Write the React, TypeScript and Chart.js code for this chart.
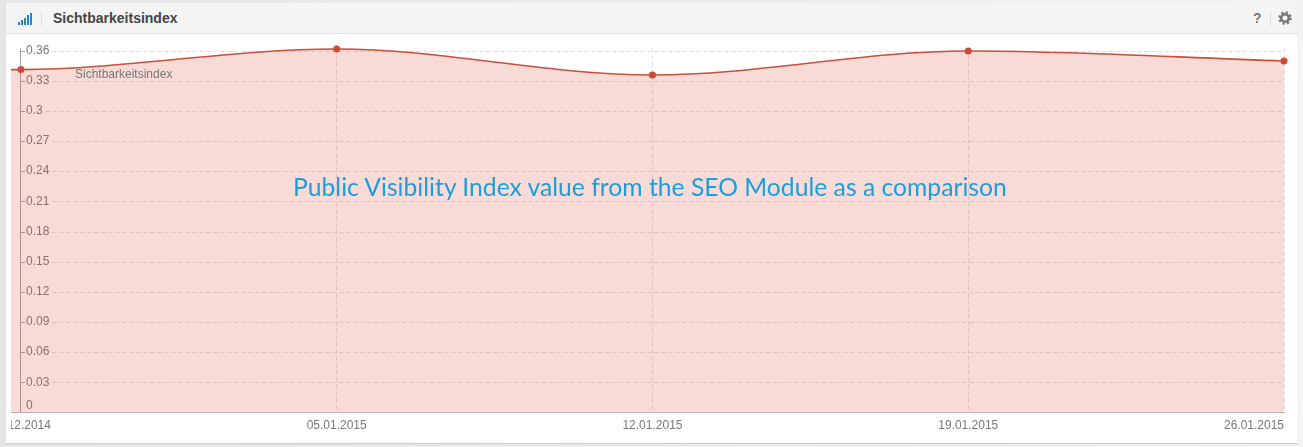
import { useEffect, useRef } from 'react';
import { Chart, registerables } from 'chart.js';

Chart.register(...registerables);

// days counted from 29.12.2014; the first entry sits off the left edge of the plot
const DAYS = [-7, 0, 7, 14, 21, 28];
const VALUES = [0.3405, 0.341, 0.3615, 0.3356, 0.3595, 0.3496];
const DATE_LABELS = ['29.12.2014', '05.01.2015', '12.01.2015', '19.01.2015', '26.01.2015'];
const TICK_DAYS = [0, 7, 14, 21, 28];
const Y_TICKS = [0, 0.03, 0.06, 0.09, 0.12, 0.15, 0.18, 0.21, 0.24, 0.27, 0.3, 0.33, 0.36];

const FONT = '"Liberation Sans", Arial, sans-serif';
const GRID = 'rgba(110, 90, 90, 0.22)';
const AXIS = 'rgba(100, 80, 80, 0.55)';

// y grid starts after each label, the way the original does it
const yGridPlugin = {
  id: 'yGrid',
  beforeDatasetsDraw(chart: any) {
    const { ctx, scales, chartArea } = chart;
    const axisX = scales.x.getPixelForValue(0);
    ctx.save();
    ctx.font = '12px ' + FONT;
    ctx.lineWidth = 1;
    Y_TICKS.forEach((v) => {
      if (v === 0) return;
      const y = Math.round(scales.y.getPixelForValue(v)) + 0.5;
      const labelEnd = 26 + ctx.measureText(String(v)).width;
      ctx.setLineDash([]);
      ctx.strokeStyle = AXIS;
      ctx.beginPath();
      ctx.moveTo(axisX, y);
      ctx.lineTo(axisX + 4, y);
      ctx.stroke();
      ctx.setLineDash([4, 3]);
      ctx.strokeStyle = GRID;
      ctx.beginPath();
      ctx.moveTo(labelEnd + 3, y);
      ctx.lineTo(chartArea.right, y);
      ctx.stroke();
    });
    ctx.restore();
  },
  // the first date is cut off by the plot edge
  afterDraw(chart: any) {
    chart.ctx.clearRect(0, chart.chartArea.bottom + 2, chart.chartArea.left, 30);
  },
};

export default function App() {
  const canvasRef = useRef<HTMLCanvasElement>(null);

  useEffect(() => {
    if (!canvasRef.current) return;

    const chart = new Chart(canvasRef.current, {
      type: 'line',
      data: {
        datasets: [{
          label: 'Sichtbarkeitsindex',
          data: DAYS.map((d, i) => ({ x: d, y: VALUES[i] })),
          borderColor: '#c8503c',
          borderWidth: 1.6,
          backgroundColor: 'rgba(222, 90, 70, 0.22)',
          fill: 'origin',
          cubicInterpolationMode: 'monotone',
          pointRadius: 3.5,
          pointBackgroundColor: '#cc4a38',
          pointBorderWidth: 0,
          clip: { left: 0, top: 10, right: 10, bottom: 0 },
        }],
      },
      options: {
        responsive: false,
        animation: false,
        layout: { padding: { left: 11, right: 19, top: 48.5, bottom: 0 } },
        plugins: { legend: { display: false }, tooltip: { enabled: false } },
        scales: {
          x: {
            type: 'linear',
            min: -0.22,
            max: 28,
            afterBuildTicks: (scale: any) => {
              scale.ticks = TICK_DAYS.map((value) => ({ value }));
            },
            afterFit: (scale: any) => {
              scale.height = 34.5;
              scale.paddingLeft = 0;
              scale.paddingRight = 0;
            },
            ticks: {
              autoSkip: false,
              maxRotation: 0,
              padding: 6,
              color: '#777',
              font: { family: FONT, size: 12 },
              // trailing spaces push the last date left so it ends at the plot edge
              callback: (value: any) => {
                const i = TICK_DAYS.indexOf(Number(value));
                return i === TICK_DAYS.length - 1 ? DATE_LABELS[i] + ' '.repeat(18) : DATE_LABELS[i];
              },
            },
            grid: {
              drawTicks: false,
              color: (c: any) => (c.tick && c.tick.value === 0 ? AXIS : GRID),
            },
            border: {
              color: 'rgba(130, 80, 80, 0.45)',
              dash: (c: any) => (c.tick && c.tick.value === 0 ? [] : [4, 3]),
            },
          },
          y: {
            min: 0,
            max: 0.362,
            afterFit: (scale: any) => {
              scale.width = 0;
            },
            afterBuildTicks: (scale: any) => {
              scale.ticks = Y_TICKS.map((value) => ({ value }));
            },
            ticks: {
              autoSkip: false,
              mirror: true,
              padding: 15,
              color: '#777',
              font: { family: FONT, size: 12 },
              // extra empty line lifts the 0 above the axis
              callback: (value: any) => (value === 0 ? ['0', ''] : String(value)),
            },
            grid: { display: false },
            border: { display: false },
          },
        },
      },
      plugins: [yGridPlugin],
    } as any);

    return () => chart.destroy();
  }, []);

  return (
    <div style={{ position: 'absolute', left: 0, top: 0, width: 1303, height: 447, overflow: 'hidden', background: 'linear-gradient(to right, #e6e6e6, #f3f3f3)', fontFamily: FONT }}>
      <div style={{ position: 'absolute', left: 6, top: 3, width: 1292, height: 440, background: '#fff', boxShadow: '0 1px 1px #ccc' }} />
      <div style={{ position: 'absolute', left: 6, top: 3, width: 1292, height: 30, background: '#f5f5f5', borderBottom: '1px solid #e4e4e4' }} />
      {[3, 5, 7, 10, 12].map((h, i) => (
        <div key={i} style={{ position: 'absolute', left: 18 + i * 3, top: 25 - h, width: 2, height: h, background: '#2a86c8' }} />
      ))}
      <div style={{ position: 'absolute', left: 41, top: 11, width: 1, height: 15, background: '#ddd' }} />
      <div style={{ position: 'absolute', left: 53, top: 10, fontSize: 14, lineHeight: '17px', fontWeight: 'bold', color: '#444' }}>Sichtbarkeitsindex</div>
      <div style={{ position: 'absolute', left: 1253, top: 10, fontSize: 14, lineHeight: '17px', fontWeight: 'bold', color: '#777' }}>?</div>
      <div style={{ position: 'absolute', left: 1270, top: 11, width: 1, height: 15, background: '#ddd' }} />
      <svg width={14} height={14} viewBox="0 0 14 14" style={{ position: 'absolute', left: 1278, top: 11 }}>
        <circle cx={7} cy={7} r={3.8} fill="none" stroke="#777" strokeWidth={2.6} />
        <circle cx={7} cy={7} r={5.7} fill="none" stroke="#777" strokeWidth={2.2} strokeDasharray="2.24 2.24" />
      </svg>
      <canvas ref={canvasRef} width={1303} height={447} style={{ position: 'absolute', left: 0, top: 0, display: 'block' }} />
      <div style={{ position: 'absolute', left: 75, top: 67, fontSize: 12, lineHeight: '14px', color: '#777' }}>Sichtbarkeitsindex</div>
      <div style={{ position: 'absolute', left: 293, top: 172, fontFamily: 'Lato', fontSize: 24.7, lineHeight: '30px', color: '#1a9fdc', whiteSpace: 'nowrap' }}>Public Visibility Index value from the SEO Module as a comparison</div>
    </div>
  );
}
